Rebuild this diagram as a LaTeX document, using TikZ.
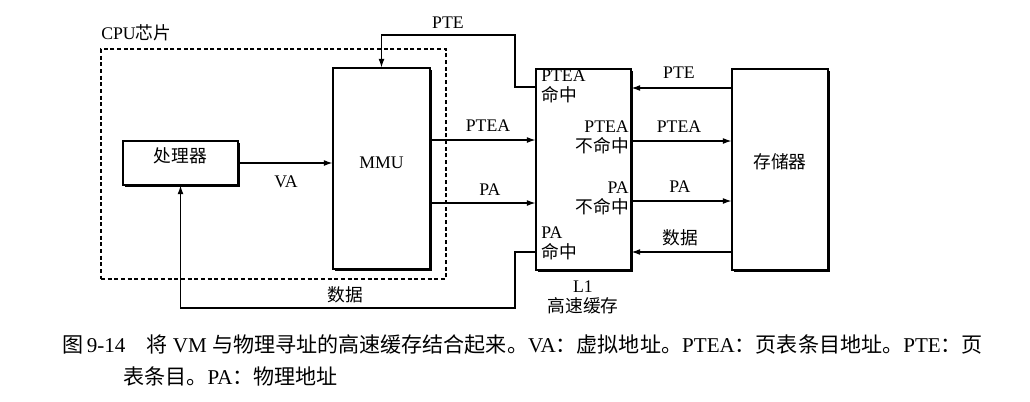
\documentclass[tikz,border=0pt]{standalone}
\usepackage{fontspec}
\setmainfont{Liberation Serif}
\newfontfamily\cjk{Noto Sans CJK SC}
\usetikzlibrary{arrows.meta,fit,shadows}
\begin{document}
\begin{tikzpicture}[x=0.75pt,y=-0.75pt,
  box/.style={draw, line width=0.85pt, fill=white, inner sep=0pt,
    drop shadow={shadow xshift=1.2pt, shadow yshift=-1.2pt, opacity=1, fill=black}},
  arr/.style={draw, line width=0.85pt, -{Latex[length=6.5pt,width=4.5pt]}},
  lbl/.style={font=\fontsize{13.3}{15}\selectfont, inner sep=0pt},
  captext/.style={font=\fontsize{15.8}{19}\selectfont, inner sep=0pt, anchor=west},
  chip/.style={draw, line width=0.85pt, dash pattern=on 3pt off 2pt, inner sep=0pt}
  ]
\useasboundingbox (0,0) rectangle (1030,401);
% chip
\node[chip, fit={(101,49)(446,279)}] (cpu) {};
\node[lbl, anchor=west] (cpulbl) at (101,33) {CPU{\cjk 芯片}};
% boxes
\node[box, lbl, fit={(123,141)(238,185)}] (proc) {\cjk 处理器};
\node[box, fit={(333,68)(430,269)}] (mmu) {};
\node[lbl] (mmut) at (381.5,163) {MMU};
\node[box, fit={(536,69)(631,270)}] (l1) {};
\node[box, lbl, fit={(732,69)(828,270)}] (mem) {\cjk 存储器};
% L1 inner labels
\node[lbl, align=left, anchor=north west] (l1a) at (541,70) {PTEA\\{\cjk 命中}};
\node[lbl, align=right, anchor=north east] (l1b) at (629,121) {PTEA\\{\cjk 不命中}};
\node[lbl, align=right, anchor=north east] (l1c) at (629,182) {PA\\{\cjk 不命中}};
\node[lbl, align=left, anchor=north west] (l1d) at (541,227) {PA\\{\cjk 命中}};
\node[lbl, align=center, anchor=north] (l1t) at (583,281) {L1\\{\cjk 高速缓存}};
% connectors
\draw[arr] (proc.east) -- (proc.east -| mmu.west);
\node[lbl] (va) at (286,182) {VA};
\draw[arr] (mmu.east |- 0,140) -- (l1.west |- 0,140);
\node[lbl] (ptea1) at (488,126) {PTEA};
\draw[arr] (mmu.east |- 0,203) -- (l1.west |- 0,203);
\node[lbl] (pa1) at (490,190) {PA};
\draw[arr] (l1.west |- 0,87) -| (515,35) -| (mmu.north);
\node[lbl] (pte1) at (448,23) {PTE};
\draw[arr] (l1.west |- 0,252) -| (515,308) -| (proc.south);
\node[lbl] (data1) at (345,295) {\cjk 数据};
\draw[arr] (mem.west |- 0,88) -- (l1.east |- 0,88);
\node[lbl] (pte2) at (679,73) {PTE};
\draw[arr] (l1.east |- 0,141) -- (mem.west |- 0,141);
\node[lbl] (ptea2) at (679,127) {PTEA};
\draw[arr] (l1.east |- 0,201) -- (mem.west |- 0,201);
\node[lbl] (pa2) at (680,187) {PA};
\draw[arr] (mem.west |- 0,252) -- (l1.east |- 0,252);
\node[lbl] (data2) at (680,238) {\cjk 数据};
% caption
\node[captext] (cap1) at (62,345) {{\cjk 图}\,9-14\quad{\cjk 将} VM {\cjk 与物理寻址的高速缓存结合起来。}VA{\cjk ：虚拟地址。}PTEA{\cjk ：页表条目地址。}PTE{\cjk ：页}};
\node[captext] (cap2) at (123,376) {{\cjk 表条目。}PA{\cjk ：物理地址}};
\end{tikzpicture}
\end{document}
